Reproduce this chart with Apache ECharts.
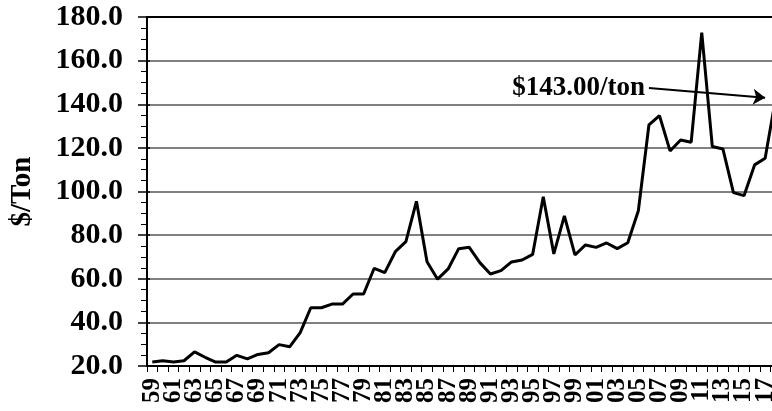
<!DOCTYPE html>
<html>
<head>
<meta charset="utf-8">
<script src="https://cdn.jsdelivr.net/npm/echarts@6/dist/echarts.min.js"></script>
<style>html,body{margin:0;padding:0;background:#fff;overflow:hidden;width:772px;height:411px;}#c{width:782px;height:411px;}</style>
</head>
<body>
<div id="c"></div>
<script>
var years = ['1959','1960','1961','1962','1963','1964','1965','1966','1967','1968','1969','1970','1971','1972','1973','1974','1975','1976','1977','1978','1979','1980','1981','1982','1983','1984','1985','1986','1987','1988','1989','1990','1991','1992','1993','1994','1995','1996','1997','1998','1999','2000','2001','2002','2003','2004','2005','2006','2007','2008','2009','2010','2011','2012','2013','2014','2015','2016','2017','2018'];
var prices = [21.8,22.4,21.8,22.4,26.5,24.0,21.8,21.8,24.9,23.3,25.3,26.1,29.8,28.8,35.3,46.7,46.7,48.4,48.4,53.0,53.0,64.8,62.8,72.4,77.0,95.5,67.8,59.8,64.5,73.8,74.4,67.4,62.2,63.7,67.7,68.6,71.2,97.6,71.4,88.8,70.9,75.5,74.4,76.4,73.8,76.5,91.2,130.5,134.8,118.6,123.6,122.6,172.8,120.6,119.5,99.5,98.1,112.2,115.2,143.0];
var yTicks = {min: 20, max: 180, interval: 20};
var yName = '$/Ton';
var noteText = '$143.00/ton';
var noteStart = ['2006', 147.5];
var noteEnd = ['2017', 143.0];

var FONT = "'Liberation Serif','Times New Roman',serif";
var chart = echarts.init(document.getElementById('c'), null, {renderer: 'canvas'});
chart.setOption({
  animation: false,
  backgroundColor: '#fff',
  grid: {left: 144, top: 17, height: 349, width: 637, containLabel: false},
  xAxis: [{
    type: 'category', data: years, boundaryGap: true,
    axisLine: {lineStyle: {color: '#000', width: 2}},
    axisTick: {show: true, interval: 0, length: 6, lineStyle: {color: '#000', width: 1}},
    axisLabel: {interval: 0, rotate: 90, margin: 12, color: '#000', fontFamily: FONT, fontWeight: 'bold', fontSize: 25,
      lineHeight: 14, showMinLabel: true, showMaxLabel: false, hideOverlap: false,
      formatter: function (v, i) { return (i % 2 === 0) ? v.slice(2) : ''; }},
    splitLine: {show: false}
  }, {
    type: 'category', data: years, position: 'top',
    axisLine: {lineStyle: {color: '#000', width: 2}},
    axisTick: {show: false}, axisLabel: {show: false}, splitLine: {show: false}
  }],
  yAxis: [{
    type: 'value', min: yTicks.min, max: yTicks.max, interval: yTicks.interval,
    name: yName, nameLocation: 'middle', nameRotate: 90, nameGap: 110,
    nameTextStyle: {color: '#000', fontFamily: FONT, fontWeight: 'bold', fontSize: 29},
    axisLine: {show: true, lineStyle: {color: '#000', width: 2}},
    axisTick: {show: true, length: 9, lineStyle: {color: '#000', width: 1.5}},
    minorTick: {show: true, splitNumber: 4, length: 6, lineStyle: {color: '#000', width: 1}},
    axisLabel: {margin: 24, color: '#000', fontFamily: FONT, fontWeight: 'bold', fontSize: 30,
      formatter: function (v) { return v.toFixed(1); }},
    splitLine: {show: true, lineStyle: {color: '#808080', width: 2}}
  }, {
    type: 'value', min: yTicks.min, max: yTicks.max, interval: yTicks.interval, position: 'left',
    axisLine: {show: false},
    axisTick: {show: true, inside: true, length: 3, lineStyle: {color: '#000', width: 1.5}},
    axisLabel: {show: false}, splitLine: {show: false}
  }],
  series: [{
    type: 'line', data: prices, xAxisIndex: 0, yAxisIndex: 0,
    symbol: 'none', smooth: false,
    lineStyle: {color: '#000', width: 3},
    markLine: {
      silent: true, animation: false,
      symbol: ['none', 'arrow'], symbolSize: 12,
      lineStyle: {color: '#000', width: 2, type: 'solid'},
      label: {show: true, position: 'start', distance: 4, formatter: noteText,
        color: '#000', fontFamily: FONT, fontWeight: 'bold', fontSize: 27},
      data: [[{coord: noteStart}, {coord: noteEnd}]]
    }
  }]
});
</script>
</body>
</html>
